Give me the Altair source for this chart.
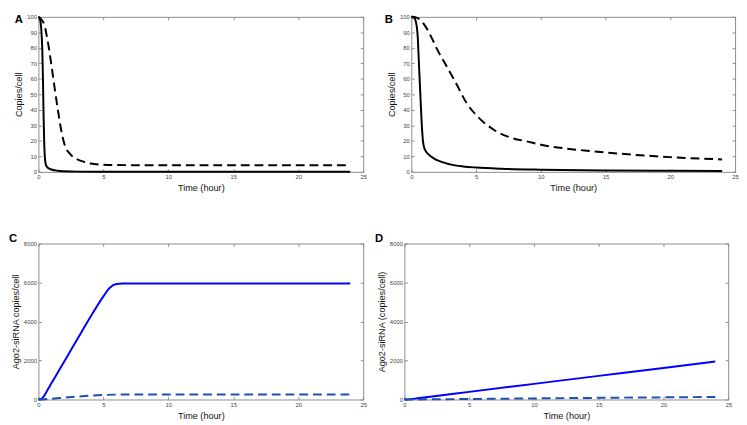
import altair as alt
import pandas as pd

FONT = "Liberation Sans"
X_TITLE = "Time (hour)"
X_TICKS = [0, 5, 10, 15, 20, 25]
Y_TICKS_AB = [0, 10, 20, 30, 40, 50, 60, 70, 80, 90, 100]
Y_TICKS_CD = [0, 2000, 4000, 6000, 8000]

LETTERS = ["A", "B", "C", "D"]
Y_TITLES = ["Copies/cell", "Copies/cell", "Ago2-siRNA copies/cell", "Ago2-siRNA (copies/cell)"]

# Panel A
A_SOLID_T = [0, 0.1, 0.2, 0.3, 0.35, 0.4, 0.45, 0.5, 0.6, 0.75, 1.0, 1.5, 2, 3, 5, 24]
A_SOLID_Y = [100, 99, 94, 78, 60, 35, 18, 9, 4, 2.5, 1.5, 0.7, 0.4, 0.15, 0.05, 0]
A_DASH_T = [0, 0.25, 0.45, 0.7, 1.0, 1.25, 1.5, 1.75, 2.0, 2.5, 3, 3.5, 4, 5, 6, 8, 24]
A_DASH_Y = [100, 98, 95, 85, 69, 54, 40, 27, 18, 11, 8, 6.5, 5.4, 4.6, 4.4, 4.3, 4.3]

# Panel B
B_SOLID_T = [0, 0.2, 0.35, 0.5, 0.6, 0.7, 0.8, 0.9, 1.0, 1.15, 1.5, 2, 3, 4, 5, 7, 10, 15, 20, 24]
B_SOLID_Y = [100, 99.5, 97, 87, 68, 50, 32, 20, 15.5, 13, 10, 7.5, 4.8, 3.5, 2.8, 2, 1.4, 0.9, 0.7, 0.6]
B_DASH_T = [0, 0.4, 1.0, 1.6, 2.0, 2.6, 3.4, 4.3, 5.2, 6.4, 7.7, 9, 10, 12, 14, 16, 20, 24]
B_DASH_Y = [100, 99.5, 95, 86, 79, 70, 58, 44, 35, 27, 22, 19.5, 17.5, 15, 13.3, 11.8, 9.5, 8]

# Panel C
C_SOLID_T = [0, 0.25, 0.5, 0.75, 1.0, 1.5, 2, 3, 4, 5, 5.5, 6, 6.5, 7, 24]
C_SOLID_Y = [0, 40, 250, 550, 830, 1400, 1965, 3100, 4230, 5290, 5730, 5920, 5950, 5950, 5950]
C_DASH_T = [0, 0.5, 1, 2, 3, 4, 5, 6, 7, 24]
C_DASH_Y = [0, 15, 40, 95, 150, 195, 230, 250, 255, 255]

# Panel D
D_SOLID_T = [0, 0.5, 1, 2, 5, 10, 15, 20, 24]
D_SOLID_Y = [0, 20, 60, 140, 390, 800, 1210, 1620, 1950]
D_DASH_T = [0, 5, 10, 15, 20, 24]
D_DASH_Y = [0, 25, 55, 85, 110, 130]

FRAME = "#8c8c8c"


def tick_axis(orient, values):
    return alt.Axis(orient=orient, offset=-3, values=values, ticks=True, tickSize=3,
                    tickColor=FRAME, tickWidth=1, labels=False, domain=False, title=None,
                    minExtent=0, maxExtent=0)


def make_panel(letter, ytitle, yticks, ymax, st, sy, dt, dy, scol, dcol,
               width, height, letter_x, letter_y):
    solid_df = pd.DataFrame({"t": st, "v": sy})
    dash_df = pd.DataFrame({"t": dt, "v": dy})
    xs = alt.Scale(domain=[0, 25], nice=False, zero=False)
    ys = alt.Scale(domain=[0, ymax], nice=False)
    main_x = alt.Axis(orient="bottom", values=X_TICKS, ticks=False, tickSize=0, domain=False,
                      labelFontSize=6, labelPadding=2, labelColor="#444", labelFont=FONT,
                      labelFlush=False, format="d", title=X_TITLE, titleFont=FONT,
                      titleFontSize=9.3, titleFontWeight="normal", titleColor="#111",
                      titlePadding=4, minExtent=0)
    main_y = alt.Axis(orient="left", values=yticks, ticks=False, tickSize=0, domain=False,
                      labelFontSize=6, labelPadding=2, labelColor="#444", labelFont=FONT,
                      labelFlush=False, format="d", title=ytitle, titleFont=FONT,
                      titleFontSize=9.3, titleFontWeight="normal", titleColor="#111",
                      titlePadding=3, minExtent=0)
    ticks_bl = alt.Chart(solid_df).mark_line(opacity=0).encode(
        x=alt.X("t:Q", scale=xs, axis=tick_axis("bottom", X_TICKS)),
        y=alt.Y("v:Q", scale=ys, axis=tick_axis("left", yticks)),
    )
    ticks_tr = alt.Chart(solid_df).mark_line(opacity=0).encode(
        x=alt.X("t:Q", scale=xs, axis=tick_axis("top", X_TICKS)),
        y=alt.Y("v:Q", scale=ys, axis=tick_axis("right", yticks)),
    )
    solid = alt.Chart(solid_df).mark_line(color=scol, strokeWidth=2, interpolate="monotone").encode(
        x=alt.X("t:Q", scale=xs, axis=main_x),
        y=alt.Y("v:Q", scale=ys, axis=main_y),
    )
    dashed = alt.Chart(dash_df).mark_line(color=dcol, strokeWidth=2, strokeDash=[9, 5],
                                          interpolate="monotone").encode(
        x=alt.X("t:Q", scale=xs, axis=None),
        y=alt.Y("v:Q", scale=ys, axis=None),
    )
    lab = alt.Chart(pd.DataFrame({"label": [letter]})).mark_text(
        font=FONT, fontSize=11.5, fontWeight="bold", align="left", baseline="top", color="#000"
    ).encode(x=alt.value(letter_x), y=alt.value(letter_y), text="label:N")
    return alt.layer(ticks_bl, ticks_tr, solid, dashed, lab).resolve_axis(
        x="independent", y="independent").properties(width=width, height=height)


pA = make_panel(LETTERS[0], Y_TITLES[0], Y_TICKS_AB, 100, A_SOLID_T, A_SOLID_Y, A_DASH_T, A_DASH_Y,
                "#000000", "#000000", 331, 158, -24, -3)
pB = make_panel(LETTERS[1], Y_TITLES[1], Y_TICKS_AB, 100, B_SOLID_T, B_SOLID_Y, B_DASH_T, B_DASH_Y,
                "#000000", "#000000", 330, 158, -27, -3)
pC = make_panel(LETTERS[2], Y_TITLES[2], Y_TICKS_CD, 8000, C_SOLID_T, C_SOLID_Y, C_DASH_T, C_DASH_Y,
                "#0000ff", "#1f4fb5", 331, 159, -30, -11)
pD = make_panel(LETTERS[3], Y_TITLES[3], Y_TICKS_CD, 8000, D_SOLID_T, D_SOLID_Y, D_DASH_T, D_DASH_Y,
                "#0000ff", "#1f4fb5", 330, 159, -30, -11)

row1 = alt.hconcat(pA, pB, spacing=49, bounds="flush")
row2 = alt.hconcat(pC, pD, spacing=42, bounds="flush")

chart = alt.concat(row1, row2, columns=1, spacing=39, align="none").properties(
    padding=0, background="white").configure_view(
    stroke=FRAME, strokeWidth=1).configure_axis(grid=False)

chart.save("out.html", embed_options={"renderer": "svg", "actions": False})
